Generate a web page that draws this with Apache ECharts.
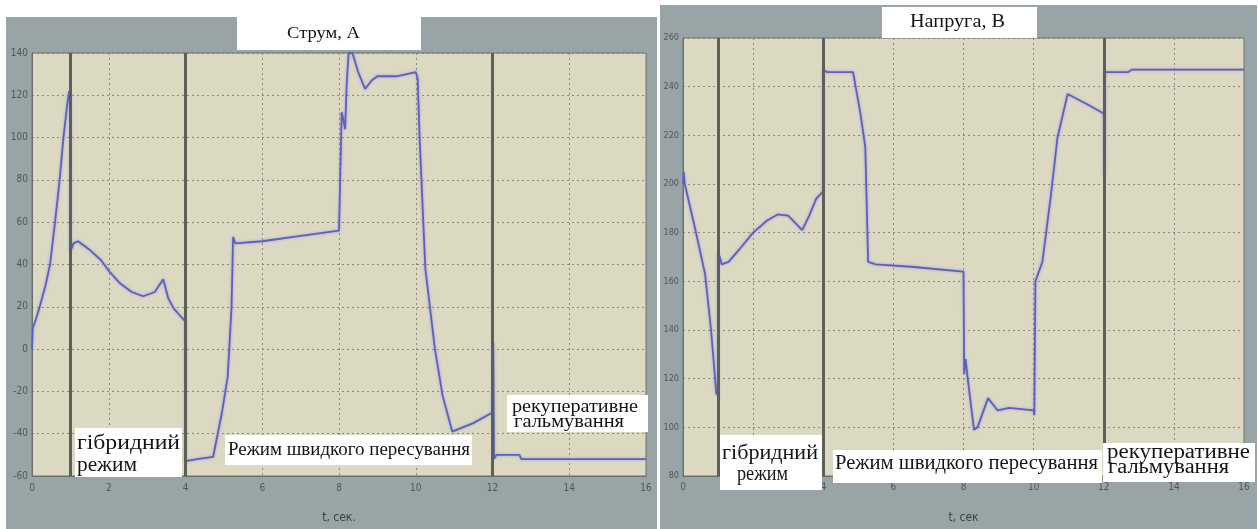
<!DOCTYPE html>
<html>
<head>
<meta charset="utf-8">
<script src="https://cdn.jsdelivr.net/npm/echarts@6/dist/echarts.min.js"></script>
<style>
  html, body { margin: 0; padding: 0; background: #ffffff; }
  #chart { width: 1259px; height: 529px; }
</style>
</head>
<body>
<div id="chart"></div>
<script>
// Time axis ticks (s), shared by both panels
const timeTicks = [0, 2, 4, 6, 8, 10, 12, 14, 16];
// Mode switching instants (s): hybrid -> fast travel -> regenerative braking
const modeBoundaries = [1, 4, 12];

// Battery current, A
const currentT = [0, 0.02, 0.1, 0.2, 0.35, 0.47, 0.6, 0.72, 0.82, 0.92, 0.97, 1.0, 1.0, 1.08, 1.2, 1.5, 1.8, 2.0, 2.3, 2.6, 2.9, 3.2, 3.42, 3.55, 3.7, 3.85, 4.0,
  4.0, 4.3, 4.72, 4.95, 5.1, 5.2, 5.24, 5.3, 6.0, 7.0, 8.0, 8.05, 8.07, 8.12, 8.16, 8.2, 8.25, 8.35, 8.5, 8.68, 8.85, 9.0, 9.5, 10.0, 10.05,
  10.1, 10.25, 10.5, 10.7, 10.95, 11.5, 12.0, 12.02, 12.04, 12.1, 12.7, 12.75, 16];
const currentA = [0, 10, 14, 20, 30, 40, 60, 80, 100, 116, 122, 118, 46, 50, 51, 47, 42, 37, 31, 27, 25, 27, 33, 24, 19, 16, 13,
  -53, -52, -51, -30, -13, 20, 53, 50, 51, 53.5, 56, 56, 112, 108, 104, 125, 140, 140, 131, 123, 127, 129, 129, 131, 128,
  100, 38, 0, -22, -39, -35, -30, 3, -52, -50, -50, -52, -52];
const currentTicks = [-60, -40, -20, 0, 20, 40, 60, 80, 100, 120, 140];

// Bus voltage, V
const voltageT = [0, 0.02, 0.05, 0.34, 0.63, 0.8, 0.95, 1.0, 1.0, 1.05, 1.1, 1.3, 1.6, 2.0, 2.4, 2.7, 3.0, 3.2, 3.4, 3.6, 3.8, 4.0,
  4.0, 4.1, 4.85, 5.06, 5.2, 5.28, 5.5, 6.5, 8.0, 8.02, 8.06, 8.12, 8.3, 8.4, 8.7, 8.97, 9.3, 10.0, 10.02,
  10.05, 10.25, 10.49, 10.68, 10.97, 11.5, 12.0, 12.02, 12.04, 12.7, 12.8, 16];
const voltageV = [200, 205, 200, 182, 163, 140, 114, 113, 171, 170, 167, 168, 173, 180, 185, 187.5, 187, 184, 181, 187, 194, 197,
  247, 246, 246, 229, 215, 168, 167, 166, 164, 122, 128, 120, 99, 100, 112, 107, 108, 107, 105,
  160, 168, 195, 219, 237, 233, 229, 204, 246, 246, 247, 247];
const voltageTicks = [80, 100, 120, 140, 160, 180, 200, 220, 240, 260];

// Titles and mode captions
const titles = ['Струм, А', 'Напруга, В'];
const axisNames = ['t, сек.', 't, сек'];
const modeNames = ['гібридний', 'режим', 'Режим швидкого пересування', 'рекуперативне', 'гальмування'];

const zip = (xs, ys) => xs.map((x, i) => [x, ys[i]]);

const FRAME = '#99a4a7';
const PLOT_BG = '#dcd9c3';
const GRID_LINE = '#8a8878';
const MODE_LINE = '#5d6058';
const CURVE = '#5d60bb';
const SERIF = '"Liberation Serif", "DejaVu Serif", serif';
const TICK_FONT = '"Liberation Sans Narrow", "DejaVu Sans Condensed", sans-serif';

// text width measurement, used to stretch captions to their box width
const measureCtx = document.createElement('canvas').getContext('2d');
function textWidth(text, font) {
  measureCtx.font = font;
  return measureCtx.measureText(text).width;
}

function xAxisFor(gridIndex, name, labelMargin) {
  return {
    type: 'value', gridIndex, min: timeTicks[0], max: timeTicks[timeTicks.length - 1],
    interval: timeTicks[1] - timeTicks[0],
    name, nameLocation: 'middle', nameGap: 36,
    nameTextStyle: { color: '#3c4246', fontSize: 12, fontFamily: TICK_FONT },
    axisLine: { onZero: false, lineStyle: { color: '#6b6f6c', width: 1 } },
    axisTick: { show: false },
    axisLabel: { color: '#4f565a', fontSize: 10, fontFamily: TICK_FONT, margin: labelMargin },
    splitLine: { show: true, lineStyle: { color: GRID_LINE, type: [2, 3], width: 1 } }
  };
}
function yAxisFor(gridIndex, ticks, fontSize) {
  return {
    type: 'value', gridIndex, min: ticks[0], max: ticks[ticks.length - 1],
    interval: ticks[1] - ticks[0],
    axisLine: { show: true, onZero: false, lineStyle: { color: '#6b6f6c', width: 1 } },
    axisTick: { show: false },
    axisLabel: { color: '#4f565a', fontSize, fontFamily: TICK_FONT, margin: 4 },
    splitLine: { show: true, lineStyle: { color: GRID_LINE, type: [2, 3], width: 1 } }
  };
}
function curveSeries(idx, data) {
  return {
    type: 'line', xAxisIndex: idx, yAxisIndex: idx, data, z: 3,
    showSymbol: false, symbol: 'none', smooth: false,
    lineStyle: { color: CURVE, width: 1.8, shadowColor: 'rgba(130,130,220,0.7)', shadowBlur: 3 }
  };
}
function modeLines(idx) {
  return {
    type: 'line', xAxisIndex: idx, yAxisIndex: idx, data: [], z: 2, silent: true,
    markLine: {
      silent: true, symbol: 'none', animation: false,
      label: { show: false },
      lineStyle: { color: MODE_LINE, width: 3, type: 'solid' },
      data: modeBoundaries.map(t => ({ xAxis: t }))
    }
  };
}

// white caption box; each line is stretched horizontally to width w
function box(x, y, w, h, lines, fontSize) {
  const font = fontSize + 'px ' + SERIF;
  const children = [{ type: 'rect', shape: { x: 0, y: 0, width: w, height: h }, style: { fill: '#ffffff' }, z: 100 }];
  lines.forEach(l => {
    const s = l.w ? l.w / textWidth(l.text, font) : 1;
    children.push({
      type: 'text', z: 101, x: l.x, y: l.y, scaleX: s,
      style: { text: l.text, x: 0, y: 0, font, fill: '#141414',
               textAlign: l.align || 'left', textVerticalAlign: 'middle' }
    });
  });
  return { type: 'group', x, y, z: 100, children };
}
// plain white margins around the grey panels
function blank(x, y, w, h) {
  return { type: 'rect', shape: { x, y, width: w, height: h }, style: { fill: '#ffffff' }, z: 100, silent: true };
}

const chart = echarts.init(document.getElementById('chart'), null, { renderer: 'canvas' });
chart.setOption({
  animation: false,
  backgroundColor: FRAME,
  grid: [
    { left: 32, top: 53, width: 614, height: 425, show: true, backgroundColor: PLOT_BG, borderColor: '#6f7372', borderWidth: 1 },
    { left: 683, top: 38, width: 561, height: 450, show: true, backgroundColor: PLOT_BG, borderColor: '#6f7372', borderWidth: 1 }
  ],
  xAxis: [xAxisFor(0, axisNames[0], 7), xAxisFor(1, axisNames[1], 6)],
  yAxis: [yAxisFor(0, currentTicks, 10), yAxisFor(1, voltageTicks, 9)],
  series: [
    modeLines(0), modeLines(1),
    curveSeries(0, zip(currentT, currentA)),
    curveSeries(1, zip(voltageT, voltageV))
  ],
  graphic: {
    elements: [
      blank(0, 0, 660, 17),
      blank(0, 0, 6, 529),
      blank(657, 0, 3, 529),
      blank(660, 0, 599, 5),
      blank(1257, 0, 2, 529),
      box(237, 17, 184, 33, [{ text: titles[0], x: 50, y: 17, w: 73 }], 17),
      box(882, 7, 155, 31, [{ text: titles[1], x: 28, y: 15, w: 95 }], 18),
      box(75, 428, 107, 49, [{ text: modeNames[0], x: 2, y: 16, w: 103 }, { text: modeNames[1], x: 2, y: 38, w: 60 }], 20),
      box(225, 435, 247, 30, [{ text: modeNames[2], x: 3, y: 15, w: 242 }], 19),
      box(507, 395, 141, 37, [{ text: modeNames[3], x: 5, y: 12, w: 126 }, { text: modeNames[4], x: 7, y: 27, w: 110 }], 19),
      box(720, 435, 102, 55, [{ text: modeNames[0], x: 2, y: 19, w: 96 }, { text: modeNames[1], x: 17, y: 40, w: 51 }], 20),
      box(833, 450, 269, 33, [{ text: modeNames[2], x: 2, y: 14, w: 263 }], 20),
      box(1103, 443, 152, 39, [{ text: modeNames[3], x: 4, y: 10, w: 143 }, { text: modeNames[4], x: 5, y: 25, w: 121 }], 20)
    ]
  }
});
</script>
</body>
</html>
